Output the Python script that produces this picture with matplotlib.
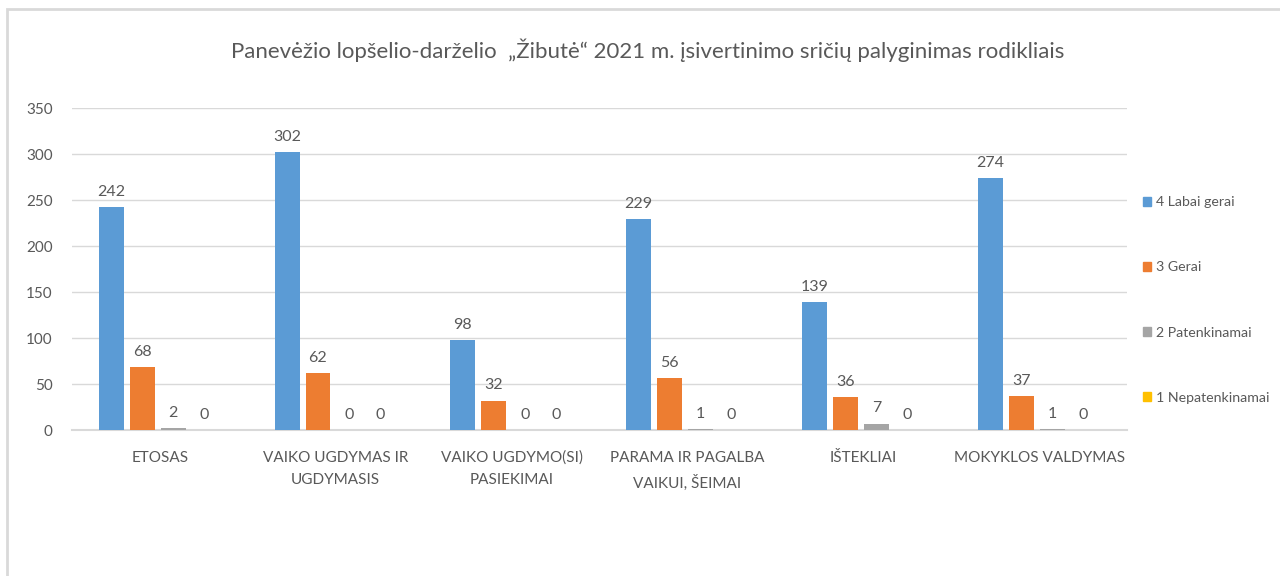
import matplotlib.pyplot as plt
import matplotlib.patches as mpatches
import numpy as np

plt.rcParams['font.family'] = ['Lato', 'DejaVu Sans']

categories = ['ETOSAS', 'VAIKO UGDYMAS IR\nUGDYMASIS', 'VAIKO UGDYMO(SI)\nPASIEKIMAI',
              'PARAMA IR PAGALBA\nVAIKUI, ŠEIMAI', 'IŠTEKLIAI', 'MOKYKLOS VALDYMAS']
series_names = ['4 Labai gerai', '3 Gerai', '2 Patenkinamai', '1 Nepatenkinamai']
labai_gerai = [242, 302, 98, 229, 139, 274]
gerai = [68, 62, 32, 56, 36, 37]
patenkinamai = [2, 0, 0, 1, 7, 1]
nepatenkinamai = [0, 0, 0, 0, 0, 0]
colors = ['#5B9BD5', '#ED7D31', '#A5A5A5', '#FFC000']
text_color = '#595959'

fig = plt.figure(figsize=(12.8, 5.76), dpi=100)
ax = fig.add_axes([72 / 1280, 1 - 430 / 576, 1055 / 1280, 322 / 576])

x = np.arange(len(categories))
width = 0.142
step = 0.176
all_series = [labai_gerai, gerai, patenkinamai, nepatenkinamai]
for i, vals in enumerate(all_series):
    pos = x + (i - 1.5) * step - 0.013
    ax.bar(pos, vals, width, color=colors[i], label=series_names[i], zorder=3)
    for xp, v in zip(pos, vals):
        ax.text(xp, v + 9, str(v), ha='center', va='bottom', fontsize=11.5, color=text_color)

ax.set_xlim(-0.5, len(categories) - 0.5)
ax.set_ylim(0, 350)
ax.set_yticks(range(0, 351, 50))
ax.yaxis.grid(True, color='#D9D9D9', linewidth=1, zorder=0)
for s in ['top', 'right', 'left']:
    ax.spines[s].set_visible(False)
ax.spines['bottom'].set_color('#D9D9D9')
ax.spines['bottom'].set_linewidth(1.5)
ax.tick_params(axis='both', length=0, colors=text_color, labelsize=11)
ax.tick_params(axis='y', pad=14)
ax.tick_params(axis='x', pad=15)
ax.set_xticks(x)
ax.set_xticklabels(categories, linespacing=1.75)

fig.suptitle('Panevėžio lopšelio-darželio  „Žibutė“ 2021 m. įsivertinimo sričių palyginimas rodikliais',
             x=648 / 1280, y=1 - 50 / 576, va='center', fontsize=16, color=text_color)

handles = [mpatches.Patch(color=c) for c in colors]
leg = fig.legend(handles, series_names, loc='center left', bbox_to_anchor=(1130 / 1280, 1 - 300 / 576),
                 frameon=False, fontsize=10.2, labelspacing=3.75, handlelength=0.6, handleheight=0.6,
                 handletextpad=0.3)
for t in leg.get_texts():
    t.set_color(text_color)

border = mpatches.Rectangle((7 / 1280, -0.1), 1.1, 1 - 9 / 576 + 0.1, transform=fig.transFigure,
                            fill=False, edgecolor='#D9D9D9', linewidth=2)
fig.patches.append(border)

fig.savefig('out.png', dpi=100)
